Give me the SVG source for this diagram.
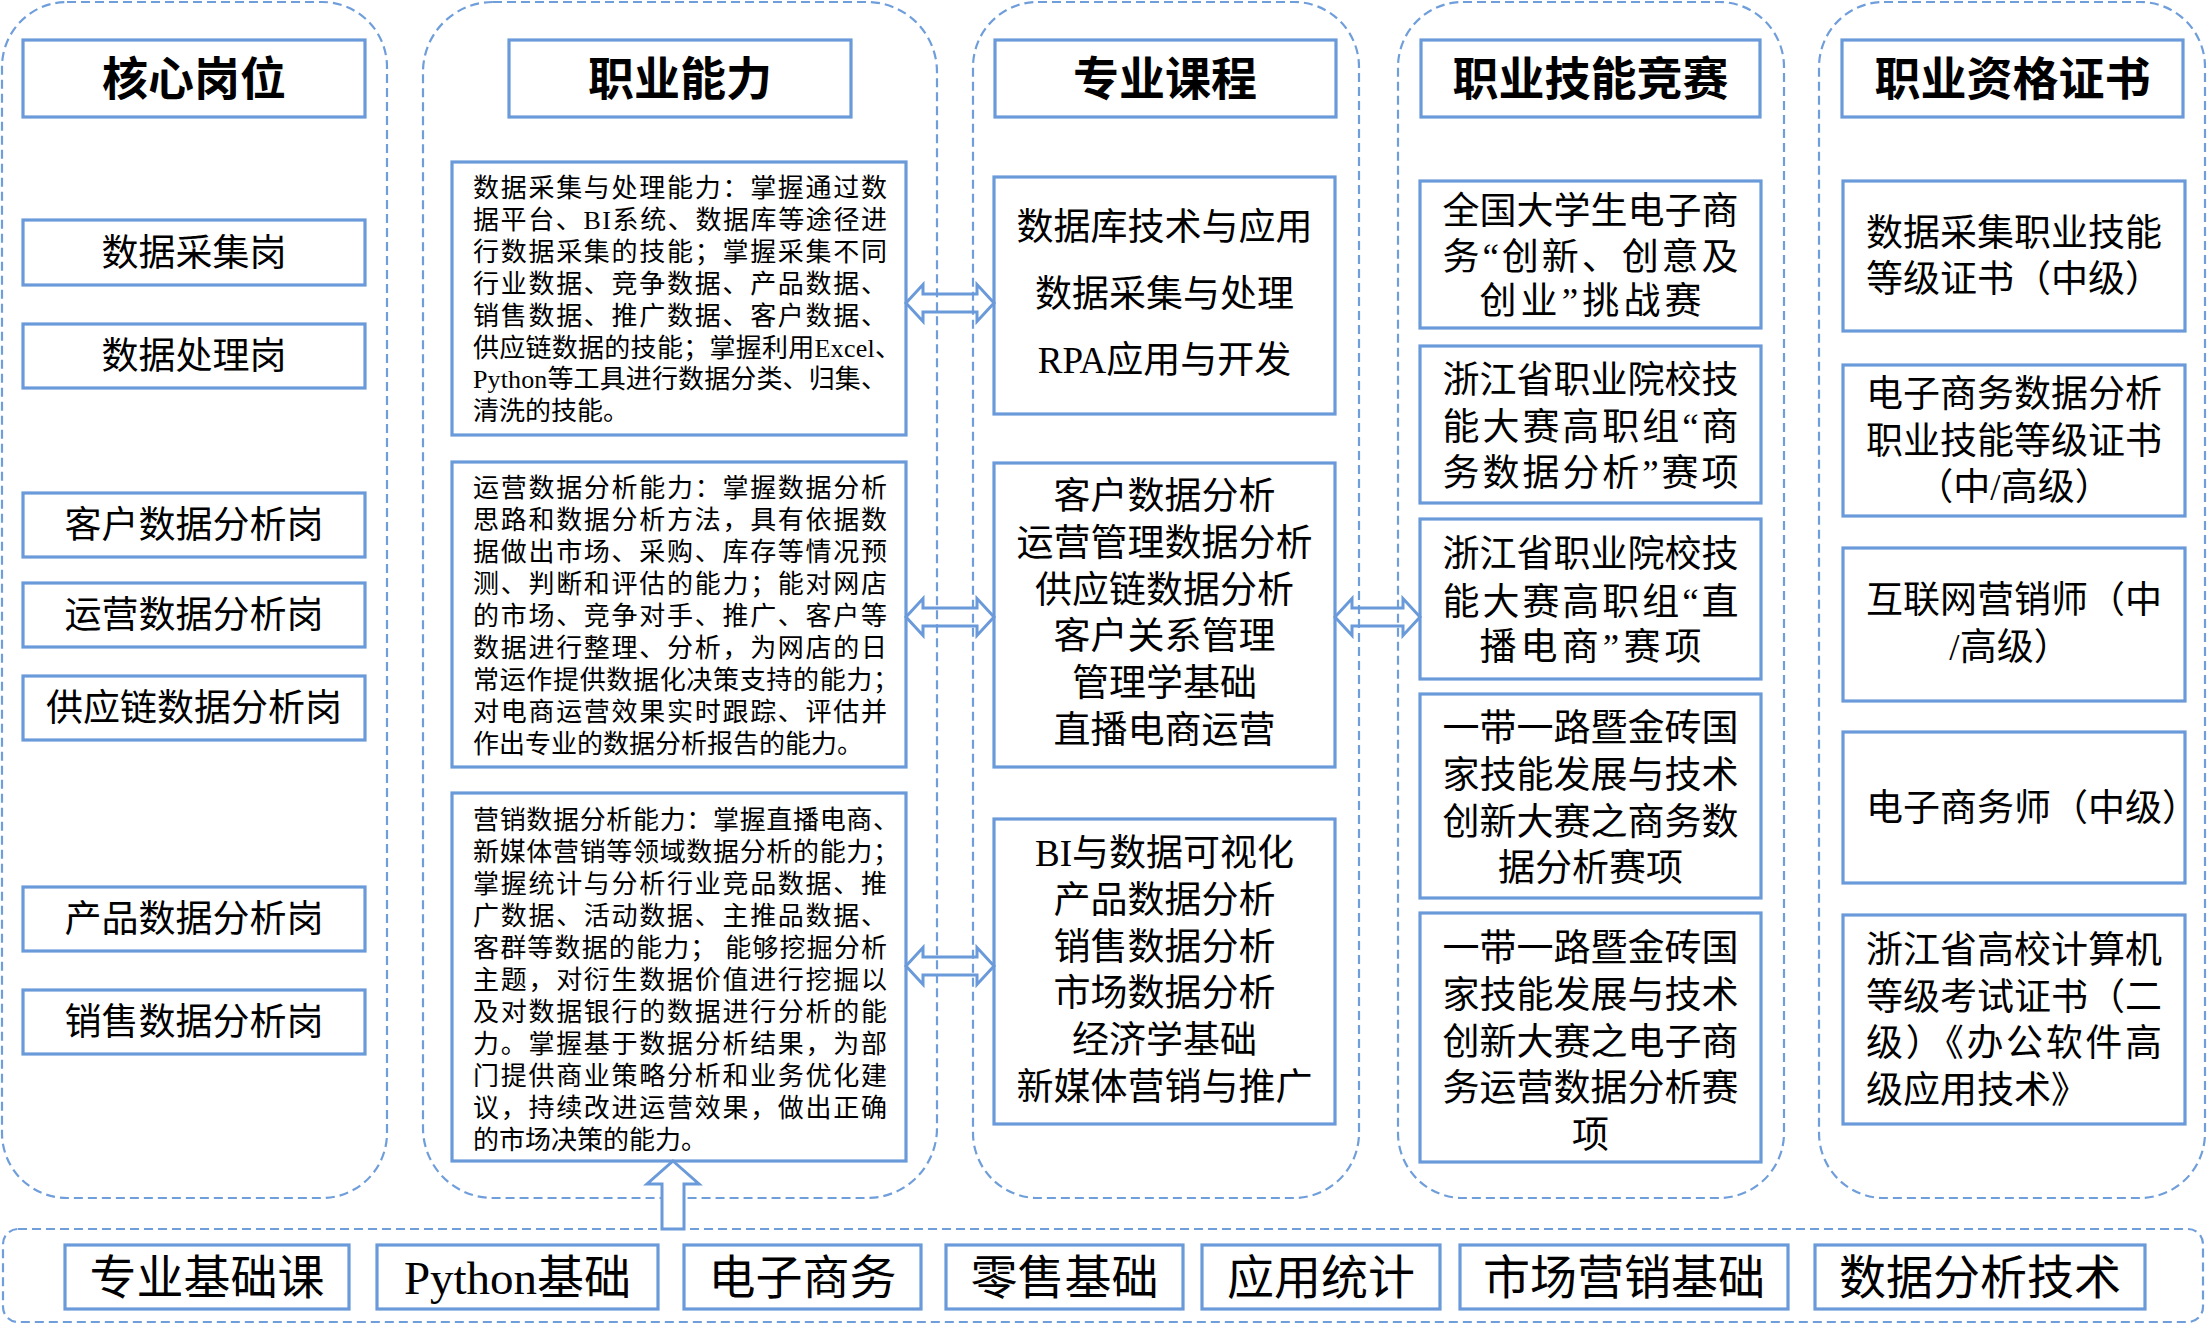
<svg xmlns="http://www.w3.org/2000/svg" width="2207" height="1324" viewBox="0 0 2207 1324">
<style>
.bg{fill:#ffffff}
.cont{fill:none;stroke:#6f9edb;stroke-width:2.2;stroke-dasharray:9 5}
.box{fill:#ffffff;stroke:#6a9ad9;stroke-width:3.2}
.hdr{font-family:"Noto Sans CJK SC","Noto Sans",sans-serif;font-weight:bold;font-size:46px;fill:#000;text-anchor:middle}
.t37{font-family:"Noto Sans CJK SC",sans-serif;font-size:37px;fill:#000}
.t37l{font-family:"Liberation Serif","Noto Sans CJK SC",serif;font-size:37px;fill:#000}
.t26{font-family:"Liberation Serif","Noto Sans CJK SC",serif;font-size:26px;fill:#000}
.t47{font-family:"Liberation Serif","Noto Sans CJK SC",serif;font-size:47px;fill:#000;text-anchor:middle}
.mid{text-anchor:middle}
.arr{fill:none;stroke:#6a9ad9;stroke-width:3;stroke-linejoin:miter}
.arrw{fill:#ffffff;stroke:#6a9ad9;stroke-width:3;stroke-linejoin:miter}
</style>
<rect class="bg" x="0" y="0" width="2207" height="1324"/>

<g id="containers">
<rect class="cont" x="2" y="2" width="385" height="1196" rx="65" ry="65"/>
<rect class="cont" x="423" y="2" width="514" height="1196" rx="70" ry="70"/>
<rect class="cont" x="973" y="2" width="386" height="1196" rx="65" ry="65"/>
<rect class="cont" x="1398" y="2" width="386" height="1196" rx="65" ry="65"/>
<rect class="cont" x="1819" y="2" width="386" height="1196" rx="65" ry="65"/>
<rect class="cont" x="3" y="1229" width="2200" height="93" rx="15" ry="15"/>
</g>

<!-- Column 1: 核心岗位 -->
<g id="hdr-core">
<rect class="box" x="23" y="40" width="342" height="77"/>
<text class="hdr" x="194" y="95">核心岗位</text>
</g>
<g id="job-collect">
<rect class="box" x="23" y="220" width="342" height="65"/>
<text class="t37 mid" x="194" y="266">数据采集岗</text>
</g>
<g id="job-process">
<rect class="box" x="23" y="324" width="342" height="64"/>
<text class="t37 mid" x="194" y="369">数据处理岗</text>
</g>
<g id="job-customer">
<rect class="box" x="23" y="493" width="342" height="64"/>
<text class="t37 mid" x="194" y="538">客户数据分析岗</text>
</g>
<g id="job-operation">
<rect class="box" x="23" y="583" width="342" height="64"/>
<text class="t37 mid" x="194" y="628">运营数据分析岗</text>
</g>
<g id="job-supply">
<rect class="box" x="23" y="676" width="342" height="64"/>
<text class="t37 mid" x="194" y="721">供应链数据分析岗</text>
</g>
<g id="job-product">
<rect class="box" x="23" y="887" width="342" height="64"/>
<text class="t37 mid" x="194" y="932">产品数据分析岗</text>
</g>
<g id="job-sales">
<rect class="box" x="23" y="990" width="342" height="64"/>
<text class="t37 mid" x="194" y="1035">销售数据分析岗</text>
</g>

<!-- Column 2: 职业能力 -->
<g id="hdr-ability">
<rect class="box" x="509" y="40" width="342" height="77"/>
<text class="hdr" x="680" y="95">职业能力</text>
</g>
<g id="ability-collect">
<rect class="box" x="452" y="162" width="454" height="273"/>
<text class="t26"><tspan x="473" y="197" textLength="414" lengthAdjust="spacing">数据采集与处理能力：掌握通过数</tspan><tspan x="473" y="228.9" textLength="414" lengthAdjust="spacing">据平台、BI系统、数据库等途径进</tspan><tspan x="473" y="260.8" textLength="414" lengthAdjust="spacing">行数据采集的技能；掌握采集不同</tspan><tspan x="473" y="292.7" textLength="414" lengthAdjust="spacing">行业数据、竞争数据、产品数据、</tspan><tspan x="473" y="324.6" textLength="414" lengthAdjust="spacing">销售数据、推广数据、客户数据、</tspan><tspan x="473" y="356.5" textLength="428" lengthAdjust="spacing">供应链数据的技能；掌握利用Excel、</tspan><tspan x="473" y="388.4" textLength="414" lengthAdjust="spacing">Python等工具进行数据分类、归集、</tspan><tspan x="473" y="420.3">清洗的技能。</tspan></text>
</g>
<g id="ability-operation">
<rect class="box" x="452" y="462" width="454" height="305"/>
<text class="t26"><tspan x="473" y="497.4" textLength="414" lengthAdjust="spacing">运营数据分析能力：掌握数据分析</tspan><tspan x="473" y="529.3" textLength="414" lengthAdjust="spacing">思路和数据分析方法，具有依据数</tspan><tspan x="473" y="561.2" textLength="414" lengthAdjust="spacing">据做出市场、采购、库存等情况预</tspan><tspan x="473" y="593.1" textLength="414" lengthAdjust="spacing">测、判断和评估的能力；能对网店</tspan><tspan x="473" y="625" textLength="414" lengthAdjust="spacing">的市场、竞争对手、推广、客户等</tspan><tspan x="473" y="656.9" textLength="414" lengthAdjust="spacing">数据进行整理、分析，为网店的日</tspan><tspan x="473" y="688.8" textLength="426" lengthAdjust="spacing">常运作提供数据化决策支持的能力；</tspan><tspan x="473" y="720.7" textLength="414" lengthAdjust="spacing">对电商运营效果实时跟踪、评估并</tspan><tspan x="473" y="752.6">作出专业的数据分析报告的能力。</tspan></text>
</g>
<g id="ability-marketing">
<rect class="box" x="452" y="793" width="454" height="368"/>
<text class="t26"><tspan x="473" y="829.4" textLength="426" lengthAdjust="spacing">营销数据分析能力：掌握直播电商、</tspan><tspan x="473" y="861.4" textLength="426" lengthAdjust="spacing">新媒体营销等领域数据分析的能力；</tspan><tspan x="473" y="893.4" textLength="414" lengthAdjust="spacing">掌握统计与分析行业竞品数据、推</tspan><tspan x="473" y="925.4" textLength="414" lengthAdjust="spacing">广数据、活动数据、主推品数据、</tspan><tspan x="473" y="957.4" textLength="414" lengthAdjust="spacing">客群等数据的能力； 能够挖掘分析</tspan><tspan x="473" y="989.4" textLength="414" lengthAdjust="spacing">主题，对衍生数据价值进行挖掘以</tspan><tspan x="473" y="1021.4" textLength="414" lengthAdjust="spacing">及对数据银行的数据进行分析的能</tspan><tspan x="473" y="1053.4" textLength="414" lengthAdjust="spacing">力。掌握基于数据分析结果，为部</tspan><tspan x="473" y="1085.4" textLength="414" lengthAdjust="spacing">门提供商业策略分析和业务优化建</tspan><tspan x="473" y="1117.4" textLength="414" lengthAdjust="spacing">议，持续改进运营效果，做出正确</tspan><tspan x="473" y="1149.4">的市场决策的能力。</tspan></text>
</g>

<!-- Column 3: 专业课程 -->
<g id="hdr-course">
<rect class="box" x="995" y="40" width="341" height="77"/>
<text class="hdr" x="1165" y="95">专业课程</text>
</g>
<g id="course-a">
<rect class="box" x="994" y="177" width="341" height="237"/>
<text class="t37l mid"><tspan x="1164.5" y="240">数据库技术与应用</tspan><tspan x="1164.5" y="307">数据采集与处理</tspan><tspan x="1164.5" y="373">RPA应用与开发</tspan></text>
</g>
<g id="course-b">
<rect class="box" x="994" y="463" width="341" height="304"/>
<text class="t37l mid"><tspan x="1164.5" y="509">客户数据分析</tspan><tspan x="1164.5" y="556">运营管理数据分析</tspan><tspan x="1164.5" y="603">供应链数据分析</tspan><tspan x="1164.5" y="649">客户关系管理</tspan><tspan x="1164.5" y="696">管理学基础</tspan><tspan x="1164.5" y="743">直播电商运营</tspan></text>
</g>
<g id="course-c">
<rect class="box" x="994" y="819" width="341" height="305"/>
<text class="t37l mid"><tspan x="1164.5" y="866">BI与数据可视化</tspan><tspan x="1164.5" y="913">产品数据分析</tspan><tspan x="1164.5" y="960">销售数据分析</tspan><tspan x="1164.5" y="1006">市场数据分析</tspan><tspan x="1164.5" y="1053">经济学基础</tspan><tspan x="1164.5" y="1100">新媒体营销与推广</tspan></text>
</g>

<!-- Column 4: 职业技能竞赛 -->
<g id="hdr-contest">
<rect class="box" x="1421" y="40" width="339" height="77"/>
<text class="hdr" x="1590.5" y="95">职业技能竞赛</text>
</g>
<g id="contest-1">
<rect class="box" x="1420" y="181" width="341" height="147"/>
<text class="t37l mid"><tspan x="1590.5" y="224" textLength="296" lengthAdjust="spacing">全国大学生电子商</tspan><tspan x="1590.5" y="270" textLength="296" lengthAdjust="spacing">务“创新、创意及</tspan><tspan x="1590.5" y="314" textLength="222" lengthAdjust="spacing">创业”挑战赛</tspan></text>
</g>
<g id="contest-2">
<rect class="box" x="1420" y="346" width="341" height="157"/>
<text class="t37l mid"><tspan x="1590.5" y="393" textLength="296" lengthAdjust="spacing">浙江省职业院校技</tspan><tspan x="1590.5" y="440" textLength="296" lengthAdjust="spacing">能大赛高职组“商</tspan><tspan x="1590.5" y="486" textLength="296" lengthAdjust="spacing">务数据分析”赛项</tspan></text>
</g>
<g id="contest-3">
<rect class="box" x="1420" y="519" width="341" height="160"/>
<text class="t37l mid"><tspan x="1590.5" y="567" textLength="296" lengthAdjust="spacing">浙江省职业院校技</tspan><tspan x="1590.5" y="615" textLength="296" lengthAdjust="spacing">能大赛高职组“直</tspan><tspan x="1590.5" y="660" textLength="222" lengthAdjust="spacing">播电商”赛项</tspan></text>
</g>
<g id="contest-4">
<rect class="box" x="1420" y="694" width="341" height="204"/>
<text class="t37l mid"><tspan x="1590.5" y="741" textLength="296" lengthAdjust="spacing">一带一路暨金砖国</tspan><tspan x="1590.5" y="788" textLength="296" lengthAdjust="spacing">家技能发展与技术</tspan><tspan x="1590.5" y="835" textLength="296" lengthAdjust="spacing">创新大赛之商务数</tspan><tspan x="1590.5" y="881">据分析赛项</tspan></text>
</g>
<g id="contest-5">
<rect class="box" x="1420" y="913" width="341" height="249"/>
<text class="t37l mid"><tspan x="1590.5" y="961" textLength="296" lengthAdjust="spacing">一带一路暨金砖国</tspan><tspan x="1590.5" y="1008" textLength="296" lengthAdjust="spacing">家技能发展与技术</tspan><tspan x="1590.5" y="1055" textLength="296" lengthAdjust="spacing">创新大赛之电子商</tspan><tspan x="1590.5" y="1101" textLength="296" lengthAdjust="spacing">务运营数据分析赛</tspan><tspan x="1590.5" y="1148">项</tspan></text>
</g>

<!-- Column 5: 职业资格证书 -->
<g id="hdr-cert">
<rect class="box" x="1842" y="40" width="341" height="77"/>
<text class="hdr" x="2012.5" y="95">职业资格证书</text>
</g>
<g id="cert-1">
<rect class="box" x="1843" y="181" width="342" height="150"/>
<text class="t37l mid"><tspan x="2014" y="246" textLength="296" lengthAdjust="spacing">数据采集职业技能</tspan><tspan x="2014" y="292" textLength="296" lengthAdjust="spacing">等级证书（中级）</tspan></text>
</g>
<g id="cert-2">
<rect class="box" x="1843" y="365" width="342" height="151"/>
<text class="t37l mid"><tspan x="2014" y="407" textLength="296" lengthAdjust="spacing">电子商务数据分析</tspan><tspan x="2014" y="454" textLength="296" lengthAdjust="spacing">职业技能等级证书</tspan><tspan x="2014" y="500">（中/高级）</tspan></text>
</g>
<g id="cert-3">
<rect class="box" x="1843" y="548" width="342" height="153"/>
<text class="t37l mid"><tspan x="2014" y="613" textLength="296" lengthAdjust="spacing">互联网营销师（中</tspan><tspan x="2010" y="660">/高级）</tspan></text>
</g>
<g id="cert-4">
<rect class="box" x="1843" y="732" width="342" height="151"/>
<text class="t37l" x="1866" y="821">电子商务师（中级）</text>
</g>
<g id="cert-5">
<rect class="box" x="1843" y="915" width="342" height="209"/>
<text class="t37l mid"><tspan x="2014" y="963" textLength="296" lengthAdjust="spacing">浙江省高校计算机</tspan><tspan x="2014" y="1010" textLength="296" lengthAdjust="spacing">等级考试证书（二</tspan><tspan x="2014" y="1056" textLength="296" lengthAdjust="spacing">级）《办公软件高</tspan><tspan x="1866" y="1103" text-anchor="start">级应用技术》</tspan></text>
</g>

<!-- Bottom: 专业基础课 row -->
<g id="base-title">
<rect class="box" x="65" y="1245" width="284" height="64"/>
<text class="t47" x="207" y="1294">专业基础课</text>
</g>
<g id="base-python">
<rect class="box" x="377" y="1245" width="281" height="64"/>
<text class="t47" x="517.5" y="1294">Python基础</text>
</g>
<g id="base-ecommerce">
<rect class="box" x="684" y="1245" width="237" height="64"/>
<text class="t47" x="802.5" y="1294">电子商务</text>
</g>
<g id="base-retail">
<rect class="box" x="946" y="1245" width="237" height="64"/>
<text class="t47" x="1064.5" y="1294">零售基础</text>
</g>
<g id="base-stats">
<rect class="box" x="1202" y="1245" width="238" height="64"/>
<text class="t47" x="1321" y="1294">应用统计</text>
</g>
<g id="base-marketing">
<rect class="box" x="1460" y="1245" width="328" height="64"/>
<text class="t47" x="1624" y="1294">市场营销基础</text>
</g>
<g id="base-analysis">
<rect class="box" x="1815" y="1245" width="330" height="64"/>
<text class="t47" x="1980" y="1294">数据分析技术</text>
</g>

<g id="connectors">
<path class="arr" d="M906,303 L923,284.5 L923,294 L977,294 L977,284.5 L994,303 L977,321.5 L977,312 L923,312 L923,321.5 Z"/>
<path class="arr" d="M906,617 L923,598.5 L923,608 L977,608 L977,598.5 L994,617 L977,635.5 L977,626 L923,626 L923,635.5 Z"/>
<path class="arr" d="M906,966 L923,947.5 L923,957 L977,957 L977,947.5 L994,966 L977,984.5 L977,975 L923,975 L923,984.5 Z"/>
<path class="arr" d="M1335,617 L1352,598.5 L1352,608 L1403,608 L1403,598.5 L1420,617 L1403,635.5 L1403,626 L1352,626 L1352,635.5 Z"/>
<path class="arrw" d="M673,1161 L699,1184 L684,1184 L684,1229 L662,1229 L662,1184 L647,1184 Z"/>
</g>
</svg>
